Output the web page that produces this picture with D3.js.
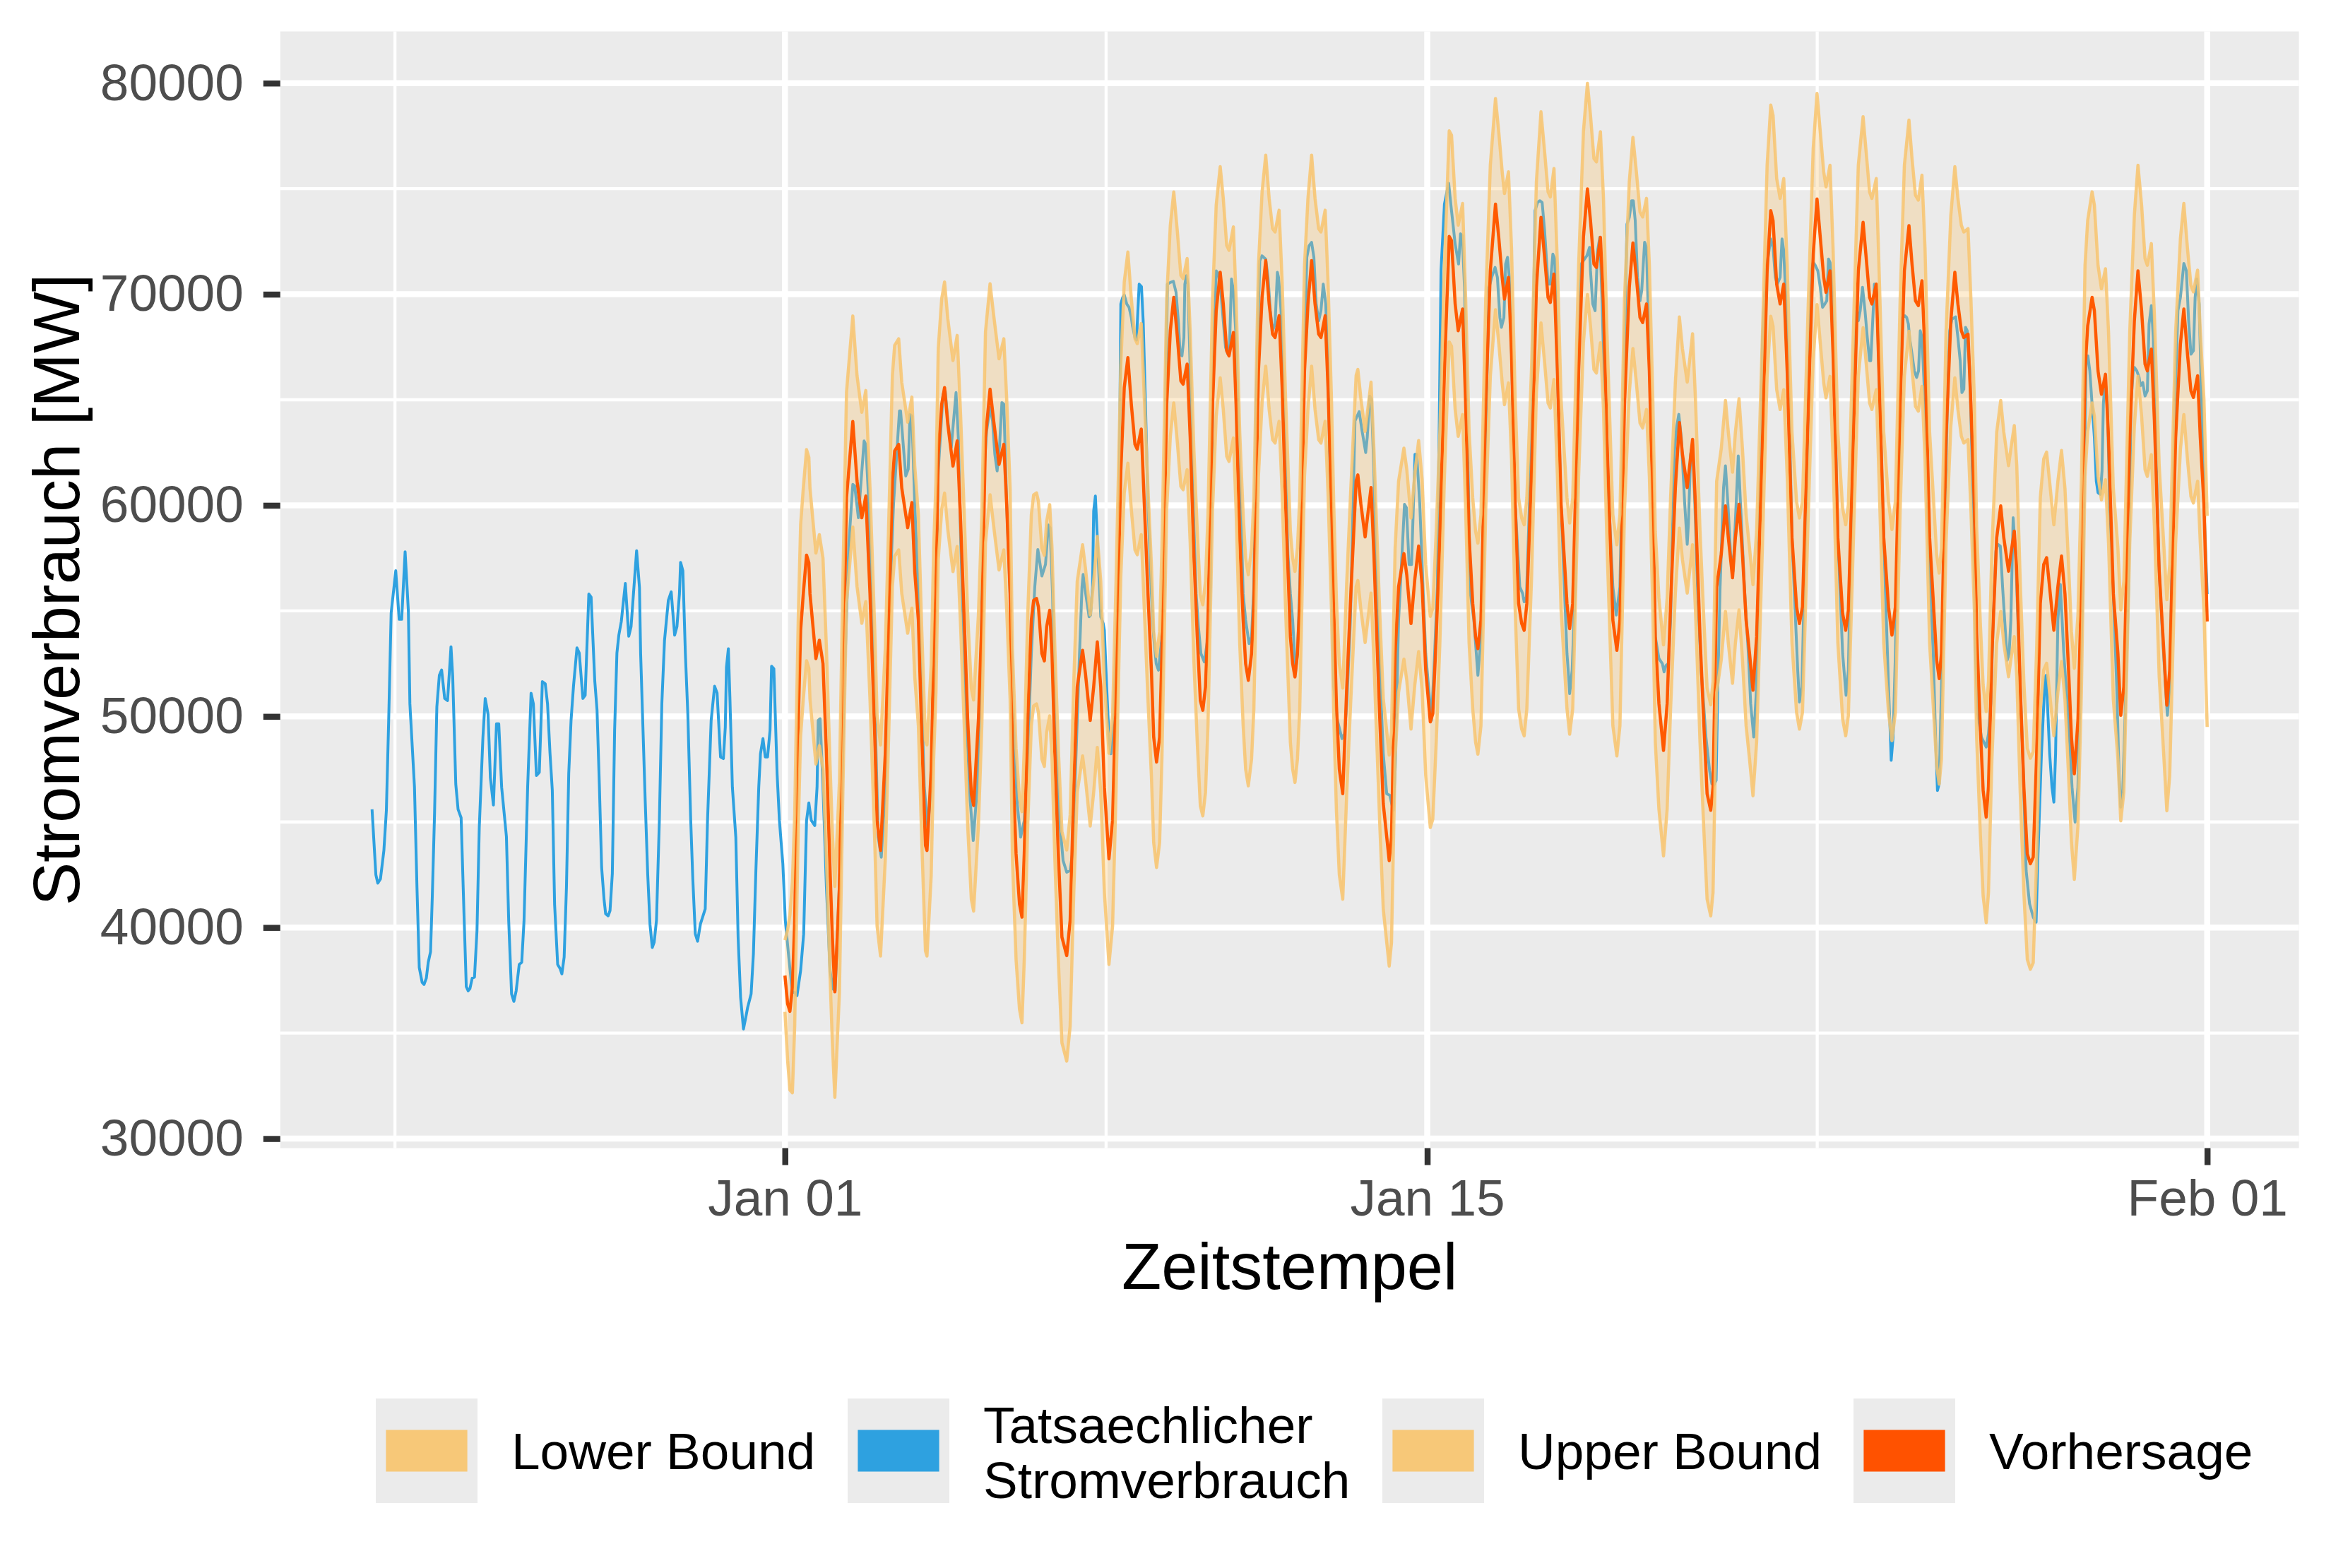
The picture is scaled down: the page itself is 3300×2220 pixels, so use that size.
<!DOCTYPE html>
<html><head><meta charset="utf-8">
<script src="https://cdn.jsdelivr.net/npm/d3@7"></script>
<style>
body{margin:0;background:#fff}
svg{display:block}
text{font-family:"Liberation Sans",Arial,Helvetica,sans-serif}
</style>
</head><body>
<svg id="chart" width="3300" height="2220"></svg>
<script>
// ---------------- DATA (hours relative to 2024-01-01 00:00 UTC) ----------------
const actual = [
[-216,45600],[-214,42500],[-213,42100],[-211.6,42300],[-209.8,43650],[-208.5,45550],[-207.3,49800],[-206,54900],[-203.6,56900],[-201.8,54600],[-200.5,54600],[-198.7,57800],[-197,55000],[-196.2,50600],[-193.8,46650],[-192.5,41900],[-191.3,38100],[-189.8,37400],[-188.8,37300],[-187.6,37600],[-186.6,38350],[-185.4,38850],[-184.5,41400],[-183.3,45400],[-182.1,50450],[-180.8,51950],[-179.6,52200],[-178,50850],[-176.5,50750],[-174.7,53300],[-173.8,51900],[-172.2,46800],[-171,45600],[-169.4,45200],[-167.9,40650],[-166.7,37200],[-165.7,37000],[-164.8,37100],[-163.6,37600],[-162.4,37650],[-161.1,39850],[-159.9,44750],[-158,49000],[-156.8,50850],[-155.3,50100],[-154.1,47100],[-152.5,45800],[-150.9,49650],[-149.7,49650],[-148.2,46650],[-145.7,44300],[-144.5,40300],[-143,36850],[-141.8,36500],[-140.6,37000],[-139,38250],[-137.7,38350],[-136.5,40300],[-134.6,46650],[-132.8,51100],[-131.6,50600],[-130,47200],[-128.5,47350],[-126.9,51650],[-125.4,51550],[-124.2,50600],[-122.9,48250],[-121.7,46500],[-120.5,41100],[-118.9,38250],[-117.6,38050],[-116.7,37800],[-115.5,38600],[-114.3,41900],[-113.1,47300],[-111.9,49800],[-110.6,51450],[-108.8,53250],[-107.6,53000],[-105.7,50850],[-104.5,51000],[-102.6,55800],[-101.4,55650],[-99.5,51700],[-98.3,50300],[-97.1,46800],[-95.9,42850],[-94.6,41300],[-93.8,40650],[-92.5,40550],[-91.5,40800],[-90.3,42550],[-89.1,49350],[-87.9,53000],[-86.9,53850],[-85.6,54500],[-83.5,56300],[-81.7,53800],[-80.5,54250],[-77.6,57850],[-76.1,56100],[-75.5,53000],[-74.3,49500],[-73.1,46000],[-71.8,42550],[-70.6,40150],[-69.4,39050],[-68.4,39300],[-67.2,40350],[-65.7,45050],[-64.4,50600],[-63,53600],[-61,55500],[-59.5,55900],[-57.7,53850],[-56.5,54250],[-55.2,55800],[-54.6,57300],[-53.4,56900],[-52.1,53000],[-50.8,50100],[-49.3,45100],[-48.2,42300],[-46.9,39700],[-45.7,39350],[-44.2,40170],[-41.7,40880],[-40.5,45070],[-38.6,49810],[-36.8,51430],[-35.5,51110],[-33.7,48080],[-32.2,48000],[-31.2,49500],[-30.6,52340],[-29.6,53210],[-28.8,50920],[-27.5,46650],[-25.7,44280],[-24.5,39540],[-23.2,36690],[-21.7,35190],[-20.5,35740],[-19.5,36220],[-17.7,36850],[-16.5,38750],[-15.2,42700],[-13.7,46650],[-12.8,48230],[-11.5,48950],[-10.3,48080],[-9.1,48080],[-7.8,49340],[-7.0,52380],[-5.8,52260],[-4.1,47280],[-2.9,45070],[-1.1,43020],
[0.2,40330],[2.0,38590],[3.9,36930],[5.1,36930],[6.3,36770],[8.2,37960],[9.8,39700],[11.3,45070],[12.5,45900],[13.8,45070],[15.6,44830],[16.8,46650],[17.4,49810],[18.4,49890],[19.9,46650],[21.7,41910],[23.6,37960],[25.1,37090],[26.3,37010],
[29.1,43490],[31,51400],[33.4,58150],[35.5,60990],[36.5,60910],[38.4,59410],[41.4,63050],[42.3,62890],[43.9,60050],[45.1,55810],[47,50600],[48.8,44280],[50.4,43330],
[52.5,46650],[54.4,54560],[56.8,60050],[58.7,62740],[59.9,64470],[60.5,64470],[62.0,62740],[63.2,61390],[64.5,61710],[65.4,64310],[66.4,64230],[67.9,60050],[69.8,55810],[71.6,50600],[72.9,46650],[74.7,44720],
[76.5,46650],[78.4,52980],[80.2,61630],[82.7,65260],[83.9,65390],[85.2,64000],[87.0,62740],[88.2,64000],[89.5,65340],[90.7,63210],[91.9,58470],[93.2,54560],[95.0,49810],[96.9,46020],[98.5,44120],
[100.6,46650],[102.4,52180],[104.2,61630],[105.5,63530],[107.3,64630],[108.6,64000],[109.8,62420],[111.0,61630],[112.3,62890],[113.5,64870],[114.5,64790],[116,60050],[117.8,55810],[119.6,49810],[121.5,45860],[123.3,44280],
[125.2,45070],[127.0,48230],[128.9,52980],[130.7,56140],[132.3,57910],[134.4,56650],[136.3,57200],[137.8,59070],[138.7,58940],[140.0,55810],[141.2,49810],[143.7,45070],[145.5,43170],[147.4,42620],
[149.2,42700],[150.4,43490],[152.3,48230],[154.1,52980],[155.4,56140],[156.0,56730],[157.2,55900],[159.1,54720],[159.9,54800],[160.9,56140],[161.5,59730],[162.4,60440],[163.4,58470],[165.2,54720],[166.5,54400],[167.1,54080],[168.3,51400],[169.5,49020],[170.5,48230],
[172.0,49810],[173.2,53770],[174.5,56140],[175.7,69540],[176.7,69850],[177.5,69970],[178.8,69540],[180,69380],[181.2,68900],[181.8,68510],[183.1,67950],[183.9,67830],[185.3,70480],[186.5,70360],[187.4,68740],[188.6,64790],[189.9,60050],[191.7,55810],[192.9,53770],[194.2,52500],[195.4,52190],
[197.2,53770],[198.5,56140],[199.1,64790],[200.1,70480],[201.6,70560],[203.2,70610],[204.6,70090],[205.9,68590],[206.7,67160],[207.7,67080],[208.7,67950],[209.2,70480],[210,70880],[210.8,70480],[212,66370],[213.3,60830],[215.1,55810],[216.3,54240],[217.6,52980],[219.4,52580],
[221.3,53770],[222.5,56140],[224.0,66370],[225.6,71110],[226.8,70960],[228.0,70170],[229.3,68740],[230.5,67480],[231.7,67160],[232.6,67640],[233.6,70720],[234.6,70170],[236.0,67950],[237.9,61630],[239.7,55810],[241.0,54560],[242.8,53450],
[244.1,53770],[245.3,56140],[246.5,64790],[248.4,71590],[249.6,71820],[251.5,71660],[252.7,70800],[253.9,69220],[255.1,68270],[256.4,68590],[257.6,71040],[258.2,70800],[259.5,69220],[260.7,65580],[261.9,61630],[263.1,57680],[264.4,55810],[265.6,54560],[267.1,52110],
[268.1,52980],[269.3,56140],[271.2,64790],[273.0,71750],[274.2,72300],[275.5,72460],[276.7,71750],[277.9,69540],[279.2,68740],[280.4,69220],[281.6,70480],[282.9,69540],[284.1,66370],[285.9,58470],[287.1,51400],[289.0,49810],[291.4,48950],
[292.7,49180],[293.9,50600],[295.8,54560],[298.2,64000],[300.4,64440],[301.9,63530],[303.8,62500],[304.6,63210],[305.9,65180],[306.8,65020],[308.1,61630],[309.3,56880],[311.2,52190],[313.0,48230],[314.8,46340],[316.4,46260],[318.2,45550],
[319.2,47440],[321.0,54560],[322.8,57680],[324.1,60050],[325.1,59890],[326.5,57200],[327.8,57200],[329.6,62420],[330.5,62420],[332.1,60050],[333.9,55810],[335.2,52980],[338.2,49810],
[339.5,52190],[341.3,56140],[343.2,71110],[345.0,74270],[347.2,75260],[348.7,73960],[350.6,72380],[352.4,71430],[353.4,72860],[354.3,72780],[355.5,70330],[356.7,64790],[358.6,55810],[360.4,54560],[362.5,51950],
[364.1,53770],[365.5,58000],[366.8,64500],[368.4,70330],[369.7,70800],[371.5,71270],[372.7,70800],[374.0,68900],[374.8,68430],[376.1,68900],[377.0,71430],[378.0,71750],[378.9,70800],[380.1,67160],[382.0,60050],[384.4,56140],[385.9,55820],[386.7,55430],
[387.9,55660],[390.6,63210],[392.4,73960],[393.7,74350],[394.9,74430],[396.1,74350],[397.4,73010],[399.2,70480],[400.4,70480],[401.7,71900],[402.7,71670],[404.1,66370],[406.0,60050],[409.1,52980],[410.1,51710],[410.5,51080],
[411.8,52190],[413.4,56140],[415.2,66370],[416.5,71430],[418.3,71670],[419.5,71820],[420.9,72220],[421.4,71110],[422.6,69540],[423.8,69220],[425.1,72060],[426.3,72700],[427.5,69540],[429.4,63210],[433.1,56140],[434.9,54800],
[436.8,56140],[438.5,64000],[440.5,73320],[441.7,73640],[442.9,74430],[443.8,74430],[444.8,73490],[446.0,70800],[447.3,69690],[448.2,70170],[449.7,72460],[450.7,72220],[452.2,67160],[454.0,60050],[455.3,53770],[457.2,52740],[459.0,52500],[459.9,52110],
[460.9,52420],[462.1,52500],[463.3,54560],[465.2,62420],[466.4,63680],[467.6,64310],[468.9,63210],[470.7,60050],[472.0,58150],[472.6,59100],[473.8,62420],[474.8,62890],[476.0,60050],[477.5,55810],[479.3,52190],[481.8,49020],[483.7,47440],[484.9,46810],[485.9,46730],
[487.1,46970],[488.0,51400],[489.2,56140],[491.0,60840],[492.0,61870],[493.3,60050],[494.7,57680],[496.0,56880],[497.2,59260],[498.7,62340],[500.3,59260],[502.1,55810],[504.0,52980],[505.2,50600],[506.8,49020],
[508.3,51400],[511.4,67950],[513.2,71110],[515.7,72620],[516.9,72220],[518.1,70800],[519.1,70480],[520.6,70800],[521.6,72620],[522.5,72060],[523.7,69540],[524.9,66370],[526.8,58470],[529.8,52190],[530.7,50680],
[532.0,51400],[535.4,64790],[536.9,71110],[537.9,71510],[539.1,71350],[540.3,71110],[541.6,70330],[542.8,69380],[544.0,69540],[545.0,69690],[545.9,71670],[546.7,71510],[547.7,70330],[548.9,66370],[550.8,58470],[553.3,52980],[555.1,51000],
[556.3,52190],[559.4,66370],[560.6,69220],[561.5,68740],[562.5,69220],[563.7,70330],[565.0,69220],[566.2,67950],[567.4,66850],[568.0,66850],[569.3,69220],[569.9,70480],[571.1,70170],[572.3,66370],[574.8,58470],[577.3,51400],[578.3,49020],[578.7,47920],
[579.7,49020],[580.9,52980],[583.4,64790],[584.6,68900],[585.9,68980],[586.8,68900],[587.7,68590],[588.3,67950],[589.6,67160],[590.8,66370],[592.0,66060],[593.0,66370],[593.9,68270],[594.8,67950],[596.4,64790],[598.2,58470],[600.7,52980],[601.9,49020],[602.9,46490],
[603.8,46810],[605.0,51400],[608.1,64790],[609.3,68270],[610.5,68820],[612.4,68930],[613.6,67950],[614.8,66850],[615.7,65340],[616.7,65500],[617.6,68430],[618.5,68270],[619.8,66370],[621.6,60050],[622.8,52980],[624.0,50130],[625.9,49020],[628.4,48550],
[629.6,49180],[630.8,50600],[632.1,54560],[633.5,57830],[634.5,58150],[635.8,58070],[637.0,56100],[639.4,52660],[640.4,52980],[641.3,54560],[642.5,59410],[643.8,57680],[645.6,52980],[647.5,48230],[649.3,42700],[651.1,41120],[653.0,40490],[654.5,40250],
[655.5,43490],[657.3,48230],[659.2,51870],[659.8,51950],[661.6,48230],[662.8,46650],[663.8,45940],[664.7,48230],[665.9,54560],[666.8,55660],[667.2,56250],[669.0,52980],[670.2,51400],[671.5,49810],[673.3,46650],[674.9,44990],
[676.4,46650],[677.6,51400],[678.9,56140],[680.7,67000],[681.6,67080],[682.6,66370],[683.8,64790],[685.0,63210],[686.0,61150],[686.9,60600],[688.1,60520],[689.0,61630],[689.7,64790],[690.6,65970],[691.8,64790],[693.0,60050],[694.9,55810],[696.7,51400],[697.9,47280],[698.8,45700],
[699.8,46340],[701.0,49810],[702.9,56140],[704.1,64790],[705.3,66370],[706.0,66530],[707.2,66370],[708.4,66060],[709.0,65660],[710.3,65820],[711.5,65180],[712.7,65420],[713.6,68590],[714.8,69460],[715.8,67950],[717.0,63210],[718.9,56880],[720.7,53770],[722.2,51400],[723.2,50050],
[724.4,51400],[727.1,64790],[728.7,69220],[730.0,69850],[731.8,71460],[733.1,71110],[734.3,68740],[735.5,67160],[736.8,67320],[737.7,69850],[738.6,70720],[739.8,69540],[741.1,64790],[742.3,60050],[744,55800]
];

const forecastHours = [
0,1.4,2.6,3.9,5.1,5.7,7.0,8.2,9.6,11.3,
12.5,13.1,16.2,18.0,19.9,21.7,23.6,24.8,26.1,28.5,
30.3,32.2,35.5,37.7,40.2,42.3,44.5,47.0,48.2,50.0,
52.5,54.4,56.2,57.4,59.5,61.1,64.2,66.4,67.9,69.8,
71.6,73.5,74.3,76.5,77.8,79.0,80.2,82.0,83.5,85.2,
87.9,90.1,91.9,93.8,95.6,97.5,98.7,101.2,103.0,104.9,
107.3,109.2,112.0,114.5,116.0,117.8,119.0,120.9,122.7,124.0,
125.2,127.0,128.9,130.1,131.6,132.6,134.4,135.7,136.9,138.5,
139.7,141.2,143.0,144.9,147.4,149.2,151.1,152.9,155.7,157.2,
159.7,161.5,163.4,165.2,167.1,169.5,171.4,173.2,175.7,177.5,
179.4,181.2,183.1,184.3,186.4,188.0,189.9,191.7,192.9,194.4,
196.0,197.2,199.7,201.6,203.4,205.3,207.1,208.3,210.4,212.0,
213.9,215.7,217.3,218.6,220.0,221.3,223.7,225.6,227.7,229.3,
231.1,232.3,234.6,236.0,237.9,239.7,241.0,242.4,244.1,245.3,
247.7,249.6,251.5,253.3,255.1,256.4,258.5,260.1,261.9,264.4,
265.6,266.8,268.1,269.3,271.8,273.6,275.5,277.3,279.2,280.4,
282.6,284.1,285.9,287.1,288.5,290.0,291.8,293.9,295.8,298.8,
299.7,301.3,303.5,306.6,308.1,309.3,311.2,313.0,316.1,317.3,
319.2,321.0,323.8,325.3,327.5,329.5,331.5,333.3,335.2,337.6,
338.9,340.7,342.6,345.0,347.5,348.7,350.6,352.2,354.5,356.1,
357.9,359.8,361.3,362.5,364.1,366.6,369.0,371.7,373.4,375.2,
376.4,378.5,380.1,382.0,383.8,385.4,386.7,388.1,390.6,393.1,
395.5,397.4,399.2,400.4,402.3,404.1,406.0,409.1,410.5,412.1,
415.2,417.7,419.8,421.4,423.2,424.5,426.6,428.2,430.0,433.1,
435.2,436.8,439.2,441.7,443.6,445.4,447.3,448.7,450.7,452.2,
454.0,455.3,457.2,459.6,461.5,463.3,465.8,467.9,469.5,472.0,
474.8,476.3,478.7,480.6,482.4,484.3,485.5,487.4,489.8,492.0,
493.5,495.7,497.2,499.1,500.9,502.8,504.6,506.4,508.3,511.4,
513.8,515.7,516.9,518.8,520.6,522.5,524.3,526.8,529.2,530.7,
532.3,535.4,537.9,539.9,541.6,543.4,544.6,546.7,548.3,550.8,
553.3,554.9,556.3,559.4,561.5,564.0,565.6,567.4,568.6,570.9,
572.3,574.8,577.3,579.1,580.9,583.4,585.6,588.0,589.6,591.4,
592.9,594.8,596.4,598.8,601.3,602.5,603.8,605.0,607.4,609.9,
612.0,613.6,615.4,616.7,618.9,620.4,622.2,623.4,625.3,626.8,
628.4,629.6,631.4,633.9,636.0,637.6,640.1,641.3,643.1,644.4,
646.2,648.1,649.9,651.5,653.0,654.8,656.7,658.5,660.0,661.6,
663.8,665.9,667.8,669.6,671.5,673.0,674.5,676.4,678.2,680.1,
681.5,683.8,685.0,686.9,688.7,690.8,692.4,694.9,697.3,698.8,
700.4,703.5,705.9,707.8,709.7,711.5,712.7,714.8,716.4,718.9,
721.4,722.9,724.4,727.5,730.0,731.8,733.7,735.5,736.8,739.0,
740.4,742.3,744.0
];

const forecast = [
37720,36380,36030,37170,40330,43490,49810,54080,55810,57640,
57280,55810,52740,53610,52500,48230,42700,39540,36950,41910,
51400,60360,63970,61150,59410,60440,55810,49020,45070,43650,
48230,54560,61150,62580,62890,60830,58940,60130,56870,54560,
49020,43890,43650,47440,52980,56140,62420,64790,65580,63840,
61860,63050,59260,54560,49810,46340,45780,49810,54560,63210,
65500,64000,61940,62890,60050,55810,48230,43490,41120,40490,
43490,49810,54560,55500,55590,55190,52980,52630,54240,55030,
52980,48230,43490,39540,38670,40330,46650,51400,53130,52030,
49810,51400,53530,51400,46650,43250,45070,51400,61630,65580,
67000,64790,62890,62660,63610,60050,55810,52190,49020,47840,
49020,52980,64790,68270,69850,67950,65900,65740,66690,63210,
57680,53770,50760,50290,51400,54560,64790,69220,71040,69540,
67320,67080,68190,64790,58470,54560,52500,51710,52980,55350,
66370,69850,71590,69540,68110,67950,68980,65580,60050,53770,
52500,51870,52980,55350,66370,69540,71590,69540,68110,67950,
68980,65580,60050,55000,50500,47500,46340,51400,55350,61150,
61440,60050,58500,60840,57680,54560,49810,45860,43170,44280,
52980,56140,57710,56700,54400,56500,58070,56250,52190,49740,
50130,53770,58470,66370,72740,72540,69540,68270,69300,64790,
58470,55350,53770,53210,54560,64790,71110,74270,72700,70800,
69770,70800,67160,60050,55350,54400,54080,55350,61630,70330,
73640,71750,69850,69610,70960,66370,60050,55350,54160,55350,
66370,72700,74990,73480,71430,71270,72700,69540,63210,54560,
53130,54560,64790,70330,72430,70800,68900,68660,69540,66370,
60050,53770,50600,48390,50600,55350,60840,63920,62420,60840,
63130,60050,53770,49810,46340,45550,46650,56140,57680,59970,
58470,56570,58470,60050,57680,54560,52980,51240,53770,63210,
71110,73960,73480,70480,69540,70480,66370,58470,55190,54400,
55190,64790,71900,74510,72700,70800,70090,71110,67160,58470,
54870,54080,55030,64790,71110,73410,71750,69850,69540,70480,
66370,58470,55190,53850,55190,64790,71110,73250,71430,69690,
69460,70640,67160,58470,54560,52660,51790,52980,63210,68740,
71040,69540,68270,67950,68110,64790,60050,54000,49500,46500,
45230,46650,52980,58470,59970,58470,56880,57680,58780,56880,
51400,46650,43490,43020,43330,48230,55350,57200,57520,56100,
54080,56140,57600,55810,52190,49020,47280,49810,56140,66370,
68500,69850,69220,66370,65260,66210,63210,55810,52980,50050,
51400,63210,68740,71110,69220,66690,66370,67400,64000,56880,
52980,50530,52190,63210,67640,69300,67160,65420,65110,66140,
63210,60050,54500
];

const upperBound = [
39400,39900,40600,42170,45330,48490,54810,59080,60810,62640,
62280,60810,57740,58610,57500,53230,47700,44540,41950,46910,
56400,65360,68970,66150,64410,65440,60810,54020,50070,48650,
53230,59560,66150,67580,67890,65830,63940,65130,61870,59560,
54020,48890,48650,52440,57980,61140,67420,69790,70580,68840,
66860,68050,64260,59560,54810,51340,50780,54810,59560,68210,
70500,69000,66940,67890,65050,60810,53230,48490,46120,45490,
48490,54810,59560,60500,60590,60190,57980,57630,59240,60030,
57980,53230,48490,44540,43670,45330,51650,56400,58130,57030,
54810,56400,58530,56400,51650,48250,50070,56400,66630,70580,
72000,69790,67890,67660,68610,65050,60810,57190,54020,52840,
54020,57980,69790,73270,74850,72950,70900,70740,71690,68210,
62680,58770,55760,55290,56400,59560,69790,74220,76040,74540,
72320,72080,73190,69790,63470,59560,57500,56710,57980,60350,
71370,74850,76590,74540,73110,72950,73980,70580,65050,58770,
57500,56870,57980,60350,71370,74540,76590,74540,73110,72950,
73980,70580,65050,60000,55500,52500,51340,56400,60350,66150,
66440,65050,63500,65840,62680,59560,54810,50860,48170,49280,
57980,61140,62710,61700,59400,61500,63070,61250,57190,54740,
55130,58770,63470,71370,77740,77540,74540,73270,74300,69790,
63470,60350,58770,58210,59560,69790,76110,79270,77700,75800,
74770,75800,72160,65050,60350,59400,59080,60350,66630,75330,
78640,76750,74850,74610,75960,71370,65050,60350,59160,60350,
71370,77700,79990,78480,76430,76270,77700,74540,68210,59560,
58130,59560,69790,75330,77430,75800,73900,73660,74540,71370,
65050,58770,55600,53390,55600,60350,65840,68920,67420,65840,
68130,65050,58770,54810,51340,50550,51650,61140,62680,64970,
63470,61570,63470,65050,62680,59560,57980,56240,58770,68210,
76110,78960,78480,75480,74540,75480,71370,63470,60190,59400,
60190,69790,76900,79510,77700,75800,75090,76110,72160,63470,
59870,59080,60030,69790,76110,78410,76750,74850,74540,75480,
71370,63470,60190,58850,60190,69790,76110,78250,76430,74690,
74460,75640,72160,63470,59560,57660,56790,57980,68210,73740,
76040,74540,73270,72950,73110,69790,65050,59000,54500,51500,
50230,51650,57980,63470,64970,63470,61880,62680,63780,61880,
56400,51650,48490,48020,48330,53230,60350,62200,62520,61100,
59080,61140,62600,60810,57190,54020,52280,54810,61140,71370,
73500,74850,74220,71370,70260,71210,68210,60810,57980,55050,
56400,68210,73740,76110,74220,71690,71370,72400,69000,61880,
57980,55530,57190,68210,72640,74300,72160,70420,70110,71140,
68210,65050,59500
];

const lowerBound = [
36000,33700,32300,32170,35330,38490,44810,49080,50810,52640,
52280,50810,47740,48610,47500,43230,37700,34540,31950,36910,
46400,55360,58970,56150,54410,55440,50810,44020,40070,38650,
43230,49560,56150,57580,57890,55830,53940,55130,51870,49560,
44020,38890,38650,42440,47980,51140,57420,59790,60580,58840,
56860,58050,54260,49560,44810,41340,40780,44810,49560,58210,
60500,59000,56940,57890,55050,50810,43230,38490,36120,35490,
38490,44810,49560,50500,50590,50190,47980,47630,49240,50030,
47980,43230,38490,34540,33670,35330,41650,46400,48130,47030,
44810,46400,48530,46400,41650,38250,40070,46400,56630,60580,
62000,59790,57890,57660,58610,55050,50810,47190,44020,42840,
44020,47980,59790,63270,64850,62950,60900,60740,61690,58210,
52680,48770,45760,45290,46400,49560,59790,64220,66040,64540,
62320,62080,63190,59790,53470,49560,47500,46710,47980,50350,
61370,64850,66590,64540,63110,62950,63980,60580,55050,48770,
47500,46870,47980,50350,61370,64540,66590,64540,63110,62950,
63980,60580,55050,50000,45500,42500,41340,46400,50350,56150,
56440,55050,53500,55840,52680,49560,44810,40860,38170,39280,
47980,51140,52710,51700,49400,51500,53070,51250,47190,44740,
45130,48770,53470,61370,67740,67540,64540,63270,64300,59790,
53470,50350,48770,48210,49560,59790,66110,69270,67700,65800,
64770,65800,62160,55050,50350,49400,49080,50350,56630,65330,
68640,66750,64850,64610,65960,61370,55050,50350,49160,50350,
61370,67700,69990,68480,66430,66270,67700,64540,58210,49560,
48130,49560,59790,65330,67430,65800,63900,63660,64540,61370,
55050,48770,45600,43390,45600,50350,55840,58920,57420,55840,
58130,55050,48770,44810,41340,40550,41650,51140,52680,54970,
53470,51570,53470,55050,52680,49560,47980,46240,48770,58210,
66110,68960,68480,65480,64540,65480,61370,53470,50190,49400,
50190,59790,66900,69510,67700,65800,65090,66110,62160,53470,
49870,49080,50030,59790,66110,68410,66750,64850,64540,65480,
61370,53470,50190,48850,50190,59790,66110,68250,66430,64690,
64460,65640,62160,53470,49560,47660,46790,47980,58210,63740,
66040,64540,63270,62950,63110,59790,55050,49000,44500,41500,
40230,41650,47980,53470,54970,53470,51880,52680,53780,51880,
46400,41650,38490,38020,38330,43230,50350,52200,52520,51100,
49080,51140,52600,50810,47190,44020,42280,44810,51140,61370,
63500,64850,64220,61370,60260,61210,58210,50810,47980,45050,
46400,58210,63740,66110,64220,61690,61370,62400,59000,51880,
47980,45530,47190,58210,62640,64300,62160,60420,60110,61140,
58210,55050,49500
];

const yBreaks = [30000, 40000, 50000, 60000, 70000, 80000];
const yMinorBreaks = [35000, 45000, 55000, 65000, 75000];
const xBreakHours = [0, 336, 744];            // Jan 01, Jan 15, Feb 01
const xMinorBreakHours = [-204, 168, 540];    // midpoints between breaks
const xDomainHours = [-264, 792];
const yDomain = [29550, 82450];

const legendLabels = ["Lower Bound", "Tatsaechlicher\nStromverbrauch", "Upper Bound", "Vorhersage"];
const legendColors = ["#F7C878", "#2EA1E0", "#F7C878", "#FF5200"];

const xTitle = "Zeitstempel";
const yTitle = "Stromverbrauch [MW]";

// ---------------- RENDER ----------------
const C = {
  blue: "#2EA1E0", red: "#FF5A00", band: "#F8C46F", panel: "#EBEBEB",
  tick: "#333333", tickText: "#4D4D4D"
};
const P = {left: 396.8, right: 3254.6, top: 44.5, bottom: 1625.5};
const base = Date.UTC(2024, 0, 1);
const toDate = h => new Date(base + h * 3600000);

const svg = d3.select("#chart");
svg.append("rect").attr("width", 3300).attr("height", 2220).attr("fill", "#fff");

const x = d3.scaleUtc().domain(xDomainHours.map(toDate)).range([P.left, P.right]);
const y = d3.scaleLinear().domain(yDomain).range([P.bottom, P.top]);

svg.append("rect").attr("x", P.left).attr("y", P.top)
  .attr("width", P.right - P.left).attr("height", P.bottom - P.top).attr("fill", C.panel);

const grid = svg.append("g");
const MAJ = 8.5, MIN = 4.3;
yMinorBreaks.forEach(v => grid.append("line").attr("x1", P.left).attr("x2", P.right)
  .attr("y1", y(v)).attr("y2", y(v)).attr("stroke", "#fff").attr("stroke-width", MIN));
xMinorBreakHours.forEach(h => grid.append("line").attr("y1", P.top).attr("y2", P.bottom)
  .attr("x1", x(toDate(h))).attr("x2", x(toDate(h))).attr("stroke", "#fff").attr("stroke-width", MIN));
yBreaks.forEach(v => grid.append("line").attr("x1", P.left).attr("x2", P.right)
  .attr("y1", y(v)).attr("y2", y(v)).attr("stroke", "#fff").attr("stroke-width", MAJ));
xBreakHours.forEach(h => grid.append("line").attr("y1", P.top).attr("y2", P.bottom)
  .attr("x1", x(toDate(h))).attr("x2", x(toDate(h))).attr("stroke", "#fff").attr("stroke-width", MAJ));

const plot = svg.append("g");
const lineGen = d3.line().x(d => x(toDate(d[0]))).y(d => y(d[1]));

// actual consumption
plot.append("path").attr("d", lineGen(actual)).attr("fill", "none")
  .attr("stroke", C.blue).attr("stroke-width", 4).attr("stroke-linejoin", "round");

// ribbon
const idx = d3.range(forecastHours.length);
const area = d3.area().x(i => x(toDate(forecastHours[i])))
  .y0(i => y(lowerBound[i])).y1(i => y(upperBound[i]));
plot.append("path").attr("d", area(idx)).attr("fill", C.band).attr("fill-opacity", 0.32);

// forecast
plot.append("path").attr("d", lineGen(idx.map(i => [forecastHours[i], forecast[i]])))
  .attr("fill", "none").attr("stroke", C.red).attr("stroke-width", 4.5).attr("stroke-linejoin", "round");

// bounds lines
[lowerBound, upperBound].forEach(arr => {
  plot.append("path").attr("d", lineGen(idx.map(i => [forecastHours[i], arr[i]])))
    .attr("fill", "none").attr("stroke", C.band).attr("stroke-opacity", 0.85)
    .attr("stroke-width", 4.5).attr("stroke-linejoin", "round");
});

// axes
const fontFam = '"Liberation Sans", Arial, Helvetica, sans-serif';
const yAxis = d3.axisLeft(y).tickValues(yBreaks).tickSize(24).tickPadding(28).tickFormat(d3.format("d"));
const gy = svg.append("g").attr("transform", `translate(${P.left},0)`).call(yAxis);
const xAxis = d3.axisBottom(x).tickValues(xBreakHours.map(toDate)).tickSize(24).tickPadding(20)
  .tickFormat(d3.utcFormat("%b %d"));
const gx = svg.append("g").attr("transform", `translate(0,${P.bottom})`).call(xAxis);
[gx, gy].forEach(g => {
  g.attr("font-size", null).attr("font-family", null);
  g.select(".domain").remove();
  g.selectAll(".tick line").attr("stroke", C.tick).attr("stroke-width", MAJ);
  g.selectAll(".tick text").attr("fill", C.tickText).style("font-size", "73px").style("font-family", fontFam);
});

// titles
svg.append("text").attr("x", (P.left + P.right) / 2).attr("y", 1825).attr("text-anchor", "middle")
  .style("font-size", "92px").attr("fill", "#000").text(xTitle);
svg.append("text").attr("transform", `translate(112,${(P.top + P.bottom) / 2}) rotate(-90)`)
  .attr("text-anchor", "middle").style("font-size", "92px").attr("fill", "#000").text(yTitle);

// legend
const keyX = [532, 1200, 1957, 2624];
const keyY = 1980, keyW = 144, keyH = 148;
const lg = svg.append("g");
legendLabels.forEach((lab, i) => {
  lg.append("rect").attr("x", keyX[i]).attr("y", keyY).attr("width", keyW).attr("height", keyH).attr("fill", C.panel);
  lg.append("rect").attr("x", keyX[i] + keyW * 0.1).attr("y", keyY + keyH / 2 - 29.5)
    .attr("width", keyW * 0.8).attr("height", 59).attr("fill", legendColors[i]);
  const lines = lab.split("\n");
  const t = lg.append("text").attr("x", keyX[i] + keyW + 48).style("font-size", "73px").attr("fill", "#000");
  if (lines.length === 1) {
    t.attr("y", 2080).text(lines[0]);
  } else {
    lines.forEach((ln, j) => t.append("tspan").attr("x", keyX[i] + keyW + 48).attr("y", j === 0 ? 2043 : 2121).text(ln));
  }
});
</script>
</body></html>
